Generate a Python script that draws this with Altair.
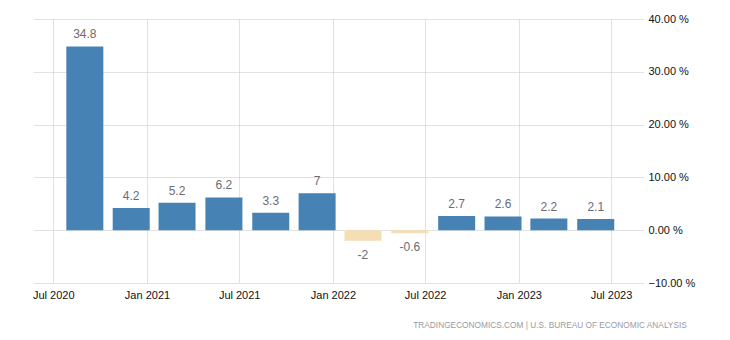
import altair as alt
import pandas as pd

# Quarterly GDP growth (annualized, %)
dates = ["2020-09-01", "2020-12-01", "2021-03-01", "2021-06-01", "2021-09-01", "2021-12-01",
         "2022-03-01", "2022-06-01", "2022-09-01", "2022-12-01", "2023-03-01", "2023-06-01"]
values = [34.8, 4.2, 5.2, 6.2, 3.3, 7, -2, -0.6, 2.7, 2.6, 2.2, 2.1]
labels = ["34.8", "4.2", "5.2", "6.2", "3.3", "7", "-2", "-0.6", "2.7", "2.6", "2.2", "2.1"]
x_ticks = [(2020, 7), (2021, 1), (2021, 7), (2022, 1), (2022, 7), (2023, 1), (2023, 7)]
y_ticks = [-10, 0, 10, 20, 30, 40]
source = "TRADINGECONOMICS.COM  |  U.S. BUREAU OF ECONOMIC ANALYSIS"

df = pd.DataFrame({"date": dates, "value": values, "label": labels})
df["sign"] = ["pos" if v >= 0 else "neg" for v in values]

FONT = "Liberation Sans"
GRID = "#c4c4c4"

x_scale = alt.Scale(type="utc",
                    domain=[alt.DateTime(year=2020, month=6, date=3, utc=True),
                            alt.DateTime(year=2023, month=8, date=23, utc=True)])
x_axis = alt.Axis(values=[alt.DateTime(year=y, month=m, date=1, utc=True) for y, m in x_ticks],
                  format="%b %Y", title=None, grid=True, gridColor=GRID,
                  gridDash=[1, 1], domain=False, ticks=False, labelPadding=6,
                  labelFont=FONT, labelFontSize=11, labelColor="#111111")
y_scale = alt.Scale(domain=[-10, 40], nice=False, zero=False)
y_axis = alt.Axis(orient="right", values=y_ticks, title=None, grid=True,
                  gridColor=GRID, gridDash=[1, 1], domain=False, ticks=False,
                  labelExpr="format(datum.value, '.2f') + ' %'", labelPadding=5,
                  labelFont=FONT, labelFontSize=11, labelColor="#111111",
                  labelBaseline="middle")

base = alt.Chart(df)

bars = base.mark_bar(size=37).encode(
    x=alt.X("date:T", scale=x_scale, axis=x_axis),
    y=alt.Y("value:Q", scale=y_scale, axis=y_axis),
    color=alt.Color("sign:N", scale=alt.Scale(domain=["pos", "neg"],
                                              range=["#4682B4", "#F5DEB3"]), legend=None),
)

pos_text = base.transform_filter("datum.value >= 0").mark_text(
    dy=-8, baseline="alphabetic", font=FONT, fontSize=12, color="#6b6b73"
).encode(x=alt.X("date:T", axis=x_axis), y=alt.Y("value:Q", axis=y_axis), text="label:N")

neg_text = base.transform_filter("datum.value < 0").mark_text(
    dy=9, baseline="top", font=FONT, fontSize=12, color="#6b6b73"
).encode(x=alt.X("date:T", axis=x_axis), y=alt.Y("value:Q", axis=y_axis), text="label:N")

chart = alt.layer(bars, pos_text, neg_text).properties(
    width=609, height=264,
    autosize=alt.AutoSizeParams(type="none"),
    padding={"left": 34, "top": 19, "right": 87, "bottom": 57},
    title=alt.TitleParams(source, orient="bottom", anchor="end", frame="bounds",
                          fontSize=8.3, font=FONT, fontWeight="normal", color="#9a9aa2",
                          offset=21, dx=-8),
).configure(
    background="white",
    view=alt.ViewConfig(stroke="#ffffff", strokeWidth=1),
)

chart.save("out.html", embed_options={"renderer": "svg", "actions": False})
